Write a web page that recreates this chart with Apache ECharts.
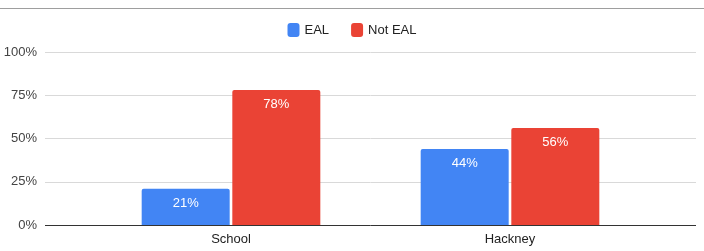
<!DOCTYPE html>
<html lang="en">
<head>
  <meta charset="UTF-8">
  <title>EAL chart</title>
  <script src="https://cdn.jsdelivr.net/npm/echarts@6/dist/echarts.min.js"></script>
  <style>
    html, body { margin: 0; padding: 0; background: #fff; }
  </style>
</head>
<body>
  <div id="main" style="width: 704px;height:251px;"></div>
  <script>
    var categories = ['School', 'Hackney']
    var eal = [21, 44]
    var notEal = [78, 56]
    var yTicks = [0, 25, 50, 75, 100]

    var font = 'Liberation Sans, Arial, sans-serif'

    function toPoints(values) {
      return values.map(function (v, i) { return [i, v] })
    }

    var myChart = echarts.init(document.getElementById('main'))
    myChart.setOption({
      animation: false,
      graphic: [{
        type: 'line',
        shape: { x1: 0, y1: 8.5, x2: 704, y2: 8.5 },
        style: { stroke: '#9e9e9e', lineWidth: 1 }
      }],
      legend: {
        top: 18,
        left: 'center',
        itemWidth: 12,
        itemHeight: 14,
        itemGap: 22,
        icon: 'roundRect',
        textStyle: { fontFamily: font, fontSize: 13, color: '#222' },
        data: ['EAL', 'Not EAL']
      },
      grid: { left: 45, right: 8, top: 52, bottom: 26 },
      xAxis: {
        type: 'value',
        min: -2 / 3,
        max: 5 / 3,
        interval: 1 / 3,
        splitLine: { show: false },
        axisTick: { show: false },
        axisLine: { show: false },
        axisLabel: {
          fontFamily: font, fontSize: 13, color: '#222', margin: 8,
          formatter: function (v) {
            var i = Math.round(v)
            return Math.abs(v - i) < 1e-6 && categories[i] ? categories[i] : ''
          }
        }
      },
      yAxis: {
        type: 'value',
        min: yTicks[0],
        max: yTicks[yTicks.length - 1],
        interval: 25,
        axisLine: { show: true, lineStyle: { color: '#fff', width: 0 } },
        axisTick: { show: false },
        splitLine: { lineStyle: { color: '#d9d9d9', width: 1 } },
        axisLabel: {
          fontFamily: font, fontSize: 13, color: '#444', margin: 8,
          formatter: '{value}%'
        }
      },
      series: [
        {
          name: 'EAL',
          type: 'bar',
          data: toPoints(eal),
          barWidth: 88,
          barGap: '3%',
          itemStyle: { color: '#4285f4', borderRadius: [2, 2, 0, 0] },
          label: {
            show: true, position: 'insideTop', distance: 8,
            color: '#fff', fontFamily: font, fontSize: 13,
            formatter: function (p) { return p.value[1] + '%' }
          }
        },
        {
          name: 'Not EAL',
          type: 'bar',
          data: toPoints(notEal),
          barWidth: 88,
          barGap: '3%',
          itemStyle: { color: '#ea4335', borderRadius: [2, 2, 0, 0] },
          label: {
            show: true, position: 'insideTop', distance: 8,
            color: '#fff', fontFamily: font, fontSize: 13,
            formatter: function (p) { return p.value[1] + '%' }
          },
          markLine: {
            silent: true,
            symbol: 'none',
            label: { show: false },
            lineStyle: { color: '#333', width: 1, type: 'solid' },
            data: [{ yAxis: 0 }]
          }
        }
      ]
    })
  </script>
</body>
</html>
